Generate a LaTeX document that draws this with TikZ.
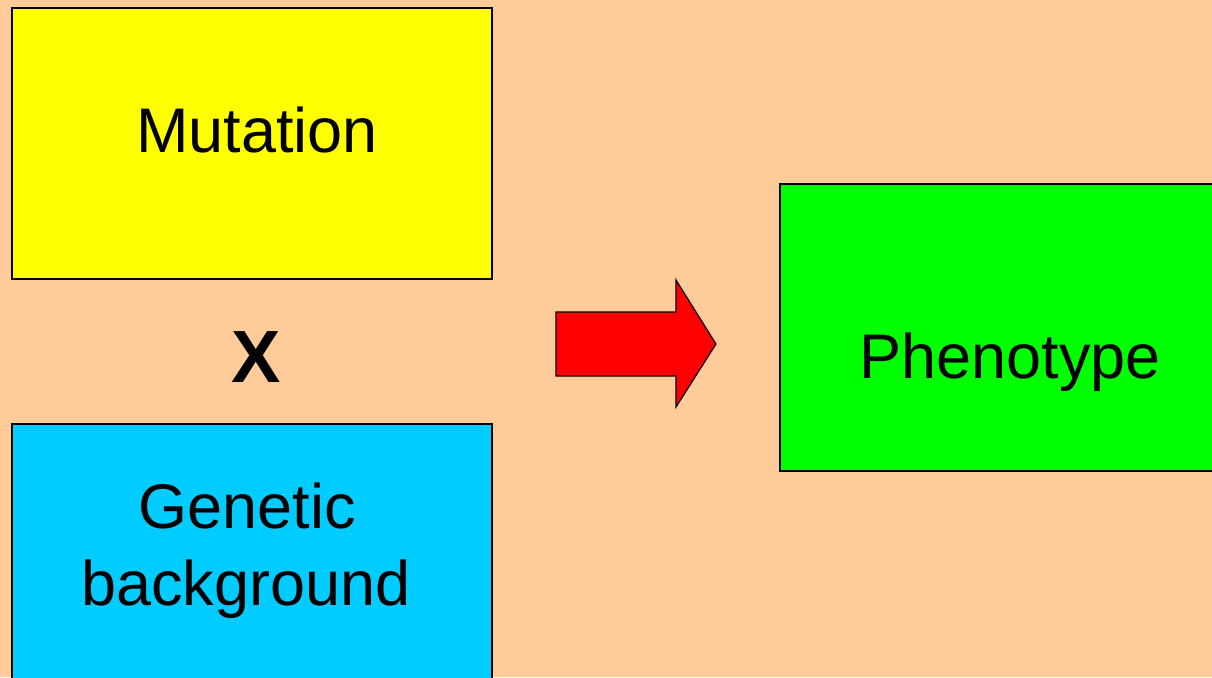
\documentclass[tikz,border=0pt]{standalone}
\usepackage{fontspec}
\setmainfont{Liberation Sans}
\begin{document}
\begin{tikzpicture}[x=1pt,y=-1pt,
  box/.style={draw=black,line width=1.2pt},
  lbl/.style={font=\fontsize{63}{77}\selectfont,anchor=base,inner sep=0pt,align=center}]
\fill[fill={rgb,255:red,255;green,204;blue,153}] (0,0) rectangle (1212,677);
\useasboundingbox (0,0) rectangle (1212,677);
\begin{scope}
\clip (0,0) rectangle (1212,677);
\filldraw[box,fill={rgb,255:red,255;green,255;blue,0}] (12,8) rectangle (492,279);
\filldraw[box,fill={rgb,255:red,0;green,204;blue,255}] (12,424) rectangle (492,700);
\filldraw[box,fill={rgb,255:red,0;green,255;blue,0}] (780,184) rectangle (1230,471);
\end{scope}
\node[lbl] (mut) at (257,152) {Mutation};
\node[lbl] (gen) at (247,528) {Genetic};
\node[lbl] (bg) at (246,605) {background};
\node[lbl] (phe) at (1010,378) {Phenotype};
\node[font=\fontsize{74}{80}\selectfont\bfseries,anchor=base,inner sep=0pt] (x) at (256,382) {X};
\filldraw[draw=black,line width=1.2pt,fill={rgb,255:red,255;green,0;blue,0}]
  (556,312) -- (676,312) -- (676,280) -- (716,344) -- (676,407) -- (676,376) -- (556,376) -- cycle;
\end{tikzpicture}
\end{document}
